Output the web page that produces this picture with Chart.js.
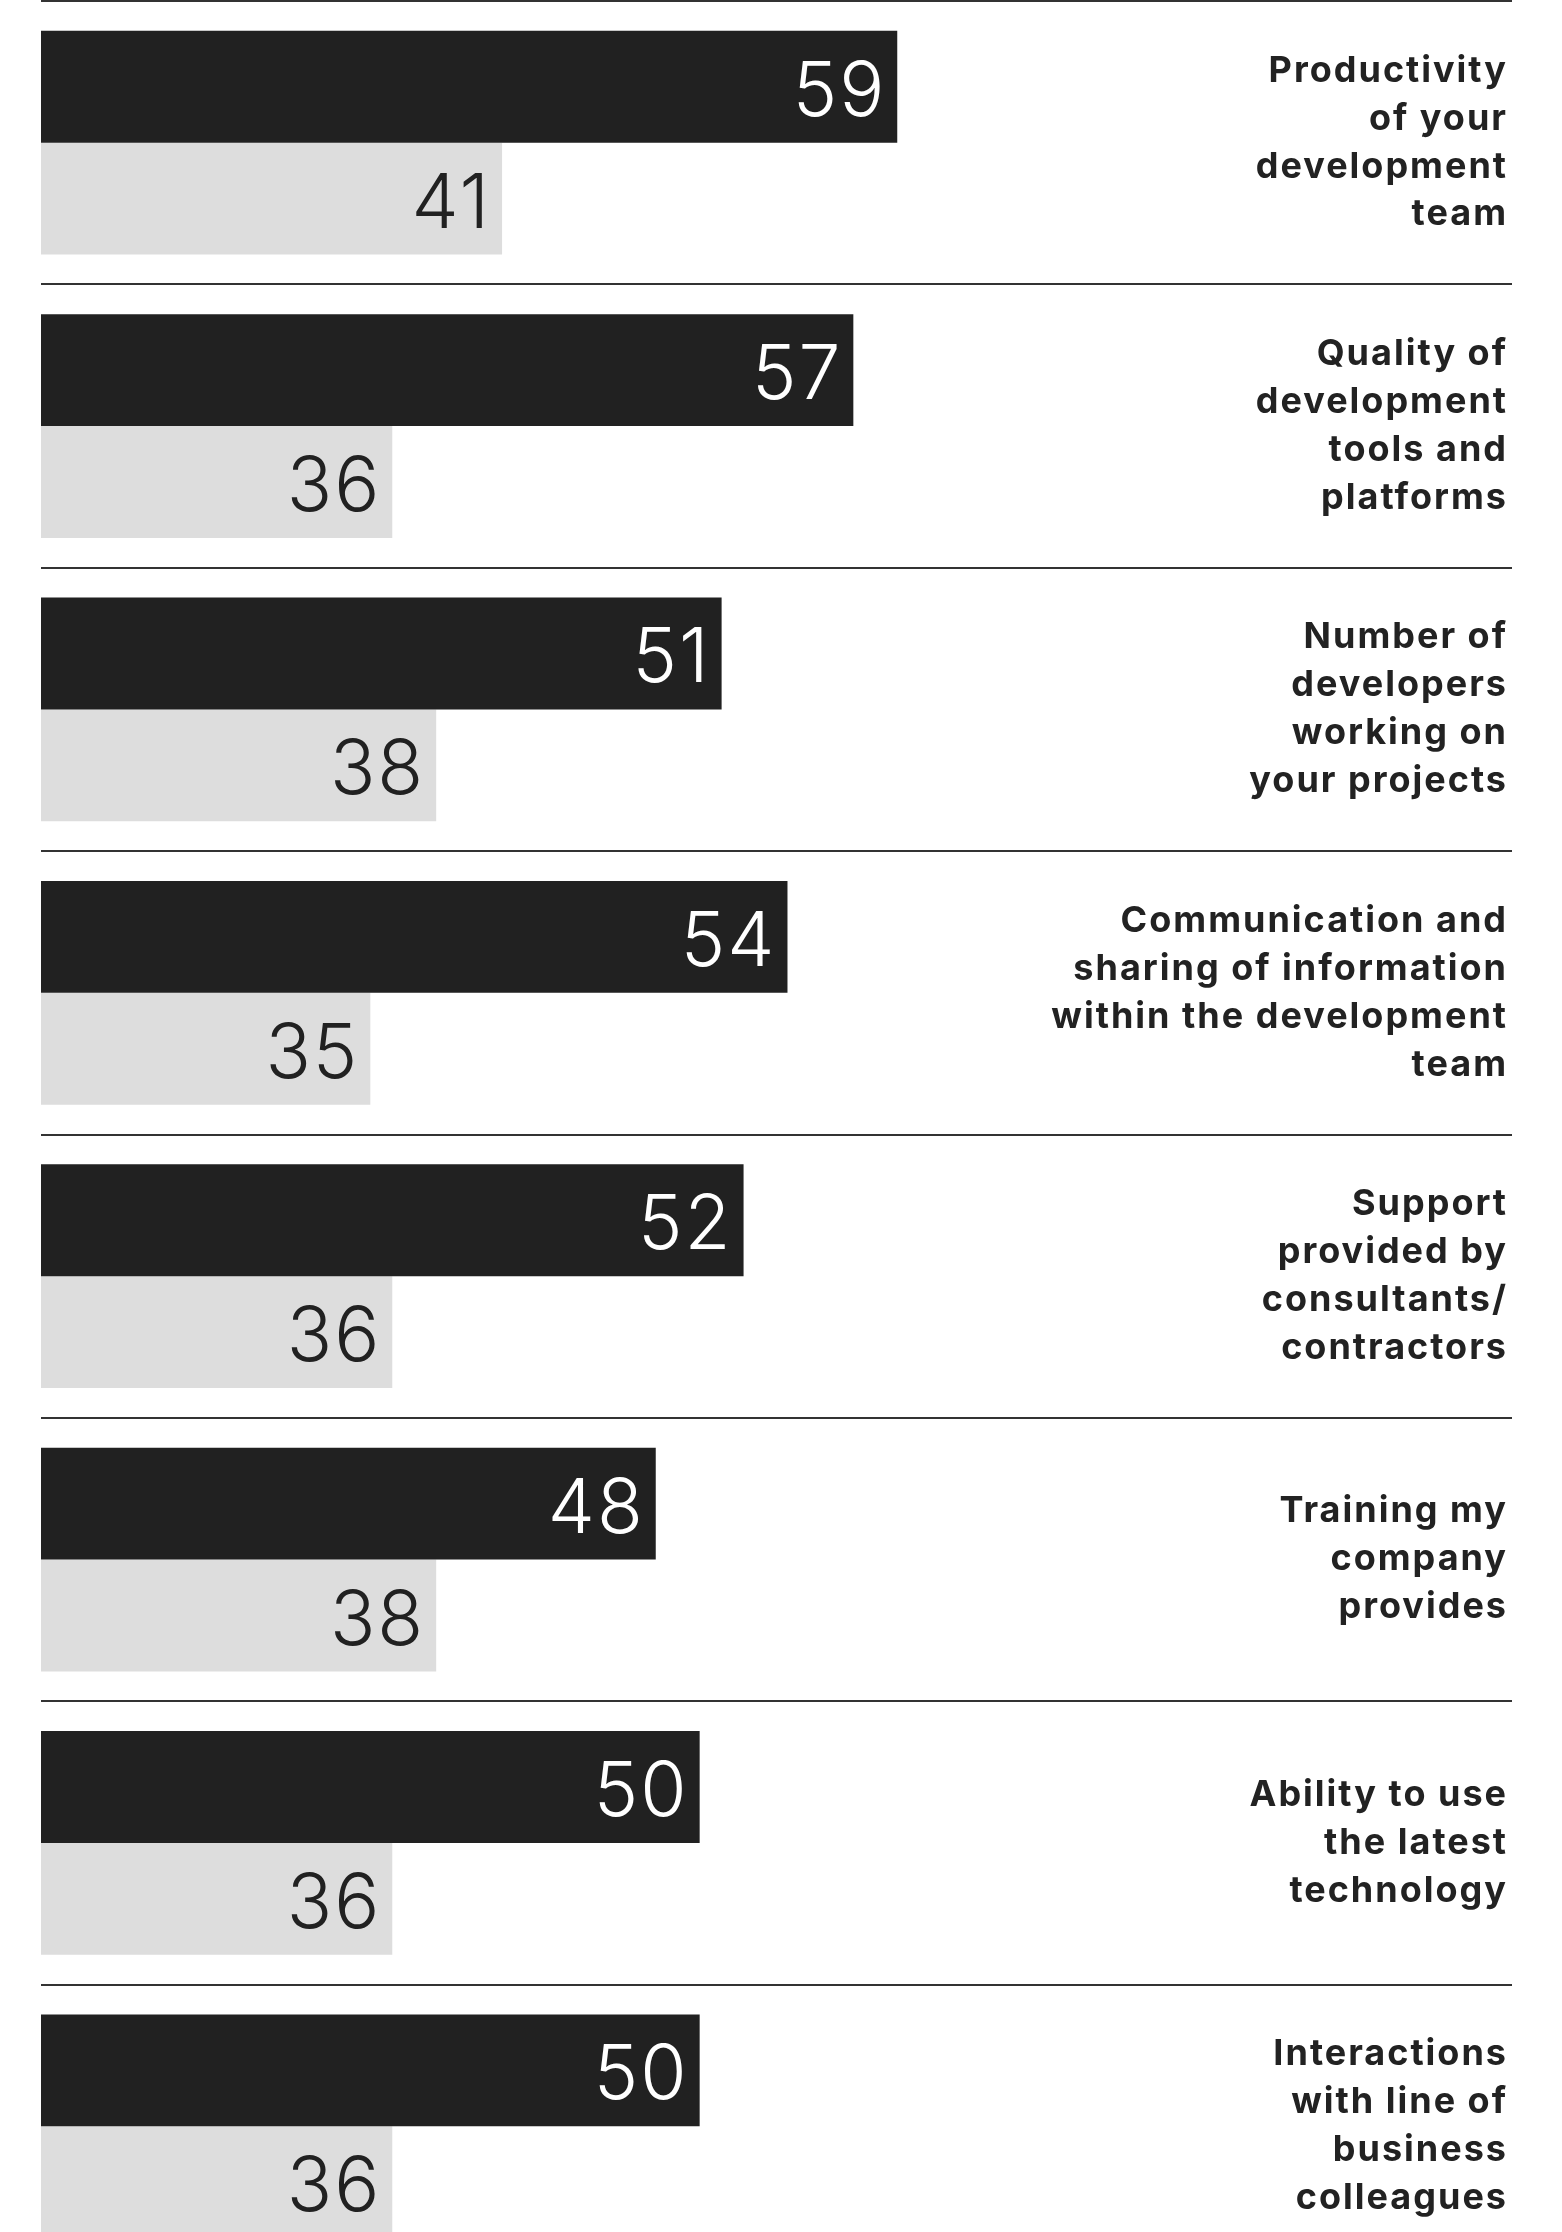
<!DOCTYPE html>
<html>
<head>
<meta charset="utf-8">
<script src="https://cdn.jsdelivr.net/npm/chart.js@4.4.0/dist/chart.umd.min.js"></script>
<style>
  html, body { margin: 0; padding: 0; background: #fff; }
  #frame { width: 1562px; height: 2232px; overflow: hidden; position: relative; }
  canvas { display: block; }
</style>
</head>
<body>
<div id="frame">
  <canvas id="barChartCanvas" width="1562" height="2270"></canvas>
</div>
<script>
// factors, one entry per row, split into display lines
const factors = [
  ["Productivity", "of your", "development", "team"],
  ["Quality of", "development", "tools and", "platforms"],
  ["Number of", "developers", "working on", "your projects"],
  ["Communication and", "sharing of information", "within the development", "team"],
  ["Support", "provided by", "consultants/", "contractors"],
  ["Training my", "company", "provides"],
  ["Ability to use", "the latest", "technology"],
  ["Interactions", "with line of", "business", "colleagues"]
];

const darkValues = [59, 57, 51, 54, 52, 48, 50, 50];
const lightValues = [41, 36, 38, 35, 36, 38, 36, 36];

const DARK = "#212121";
const LIGHT = "#dddddd";

// a little tracking for the factor names
const tracking = {
  id: "tracking",
  beforeLayout(chart) { chart.ctx.letterSpacing = "2px"; },
  beforeDraw(chart) { chart.ctx.letterSpacing = "2px"; }
};

// writes each bar's value inside its right end
const valueLabels = {
  id: "valueLabels",
  afterDatasetsDraw(chart) {
    const ctx = chart.ctx;
    ctx.save();
    ctx.letterSpacing = "2px";
    ctx.font = "300 75px Inter, 'Noto Sans', sans-serif";
    ctx.textAlign = "right";
    ctx.textBaseline = "alphabetic";
    chart.data.datasets.forEach((ds, i) => {
      const meta = chart.getDatasetMeta(i);
      ctx.fillStyle = i === 0 ? "#ffffff" : DARK;
      meta.data.forEach((bar, j) => {
        ctx.fillText(String(ds.data[j]), bar.x - 11, bar.y + 29);
      });
    });
    ctx.restore();
  }
};

new Chart(document.getElementById("barChartCanvas"), {
  type: "bar",
  data: {
    labels: factors,
    datasets: [
      {
        label: "dark",
        data: darkValues,
        backgroundColor: DARK,
        borderWidth: 0,
        categoryPercentage: 0.79,
        barPercentage: 1
      },
      {
        label: "light",
        data: lightValues,
        backgroundColor: LIGHT,
        borderWidth: 0,
        categoryPercentage: 0.79,
        barPercentage: 1
      }
    ]
  },
  options: {
    indexAxis: "y",
    responsive: false,
    animation: false,
    layout: { padding: { left: 41, right: 50, top: 1, bottom: 2 } },
    plugins: {
      legend: { display: false },
      tooltip: { enabled: false }
    },
    scales: {
      x: {
        display: false,
        min: 20,
        max: 87
      },
      y: {
        position: "right",
        border: { display: false },
        grid: {
          offset: true,
          color: "#333333",
          lineWidth: 2,
          drawTicks: false
        },
        ticks: {
          mirror: true,
          padding: -4,
          color: "#222222",
          font: { family: "Inter", size: 36, weight: "700", lineHeight: 1.333 }
        },
        // labels sit inside the rows, so no extra room above or below
        afterFit(scale) {
          scale.paddingTop = 0;
          scale.paddingBottom = 0;
        }
      }
    }
  },
  plugins: [tracking, valueLabels]
});
</script>
</body>
</html>
